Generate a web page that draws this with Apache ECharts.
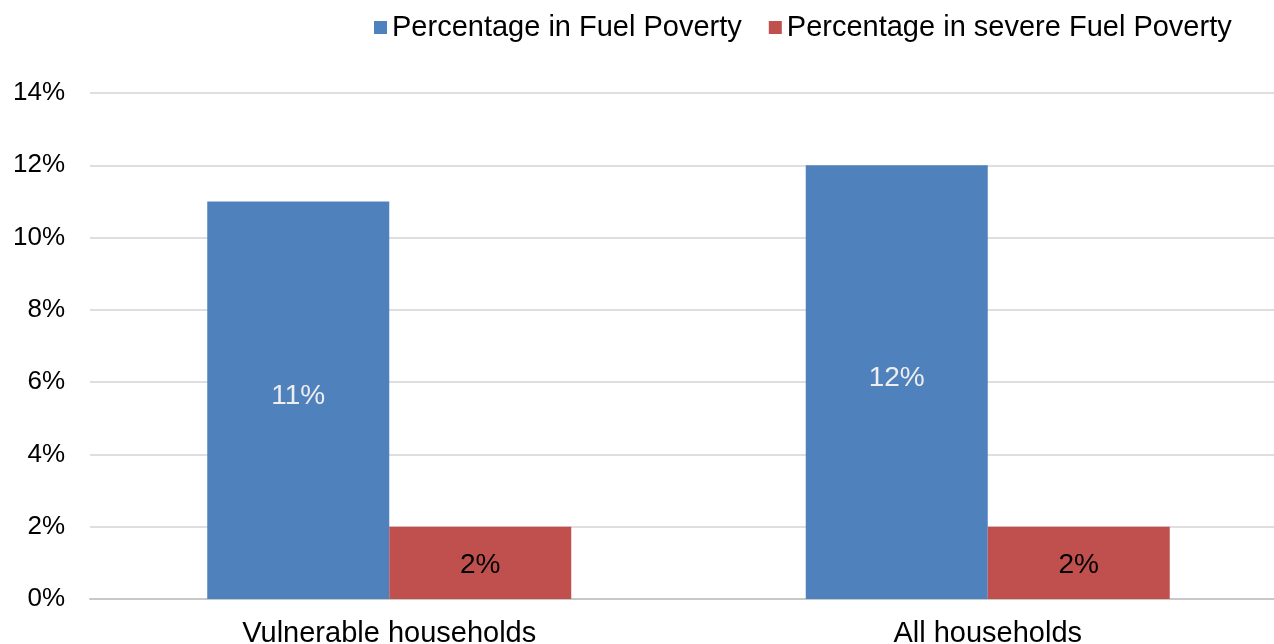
<!DOCTYPE html>
<html>
<head>
<meta charset="utf-8">
<script src="https://cdn.jsdelivr.net/npm/echarts@6/dist/echarts.min.js"></script>
<style>
  html, body { margin: 0; padding: 0; background: #fff; }
  #chart { width: 1274px; height: 644px; }
</style>
</head>
<body>
<div id="chart"></div>
<script>
const categories = ['Vulnerable households', 'All households'];
const fuelPoverty = [11, 12];
const severeFuelPoverty = [2, 2];
const seriesNames = ['Percentage in Fuel Poverty', 'Percentage in severe Fuel Poverty'];

const font = 'Liberation Sans, Arial, sans-serif';

const chart = echarts.init(document.getElementById('chart'), null, { renderer: 'canvas' });

chart.setOption({
  animation: false,
  textStyle: { fontFamily: font },
  legend: {
    left: 369,
    top: 8,
    itemWidth: 13,
    itemHeight: 13,
    itemGap: 27,
    icon: 'rect',
    textStyle: { fontSize: 29, color: '#000', fontFamily: font }
  },
  grid: { left: 90, top: 93, right: -13, bottom: 45, containLabel: false, outerBoundsMode: 'none' },
  xAxis: {
    type: 'category',
    data: categories,
    axisLine: { lineStyle: { color: '#c8c8c8', width: 2 } },
    axisTick: { length: 8, lineStyle: { color: '#c8c8c8', width: 2 } },
    axisLabel: { fontSize: 29, color: '#000', margin: 20, fontFamily: font }
  },
  yAxis: {
    type: 'value',
    min: 0,
    max: 14,
    interval: 2,
    axisLine: { show: false },
    axisTick: { show: false },
    splitLine: { lineStyle: { color: '#d4d4d4', width: 1.5 } },
    axisLabel: { formatter: '{value}%', fontSize: 26, color: '#000', margin: 25, fontFamily: font }
  },
  series: [
    {
      name: seriesNames[0],
      type: 'bar',
      data: fuelPoverty,
      barWidth: 182,
      barGap: '0%',
      itemStyle: { color: '#4F81BD' },
      label: { show: true, position: 'inside', offset: [0, -4], formatter: '{c}%', fontSize: 28, color: '#eeeeee', fontFamily: font }
    },
    {
      name: seriesNames[1],
      type: 'bar',
      data: severeFuelPoverty,
      barWidth: 182,
      barGap: '0%',
      itemStyle: { color: '#C0504D' },
      label: { show: true, position: 'inside', offset: [0, 2], formatter: '{c}%', fontSize: 28, color: '#000', fontFamily: font }
    }
  ]
});
</script>
</body>
</html>
